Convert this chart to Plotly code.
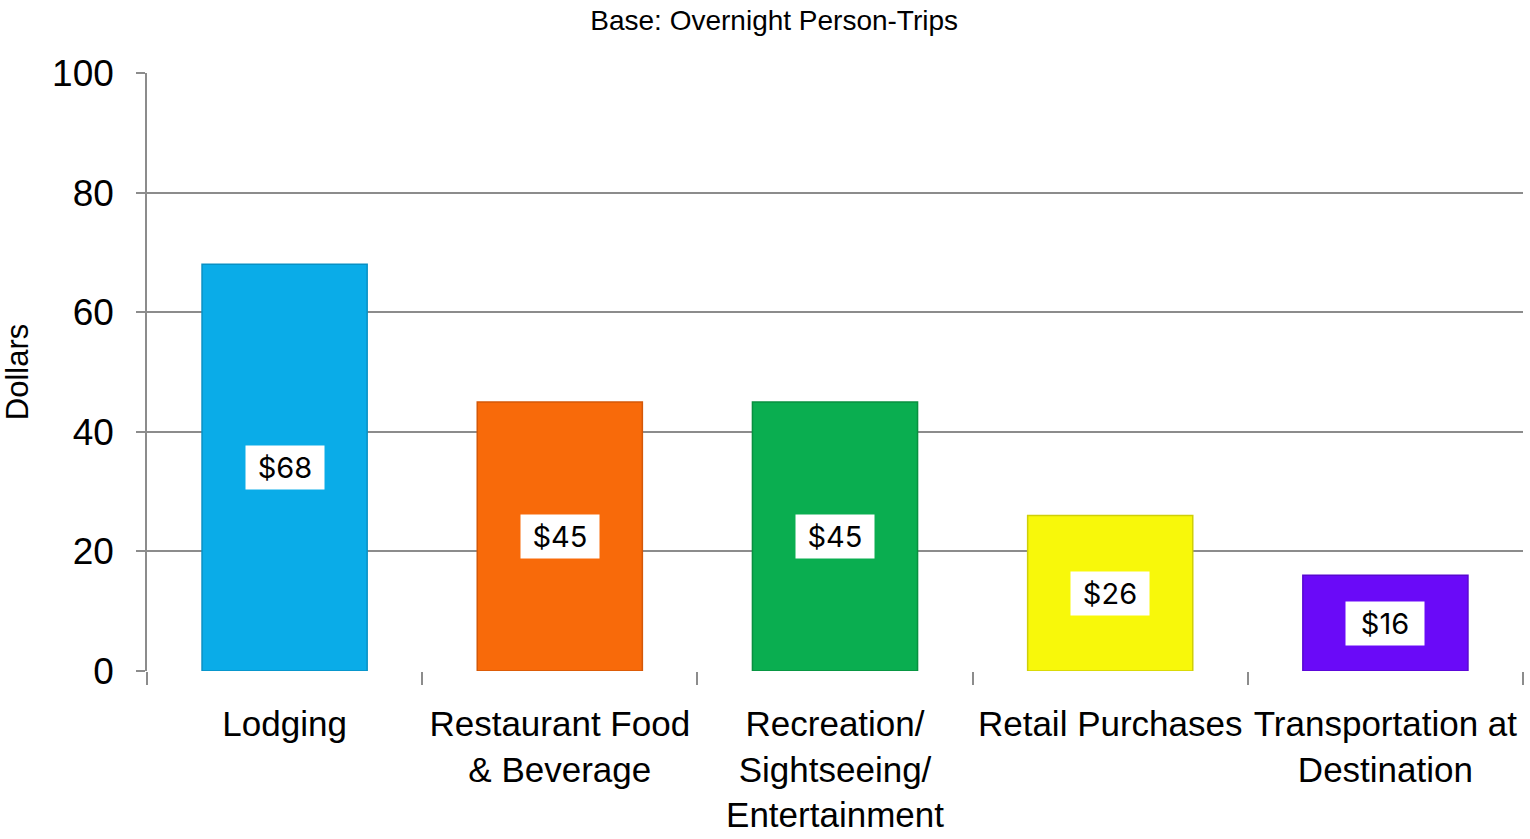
import plotly.graph_objects as go

categories = [
    "Lodging",
    "Restaurant Food<br>& Beverage",
    "Recreation/<br>Sightseeing/<br>Entertainment",
    "Retail Purchases",
    "Transportation at<br>Destination",
]
spending = [68, 45, 45, 26, 16]
value_labels = ["$68", "$45", "$45", "$26", "$16"]
bar_colors = ["#0AACE8", "#F86A0A", "#0AAE50", "#F8F80A", "#6A0AF8"]
edge_colors = ["#0890C4", "#D45808", "#08903F", "#CFCF08", "#5808D0"]
y_ticks = [0, 20, 40, 60, 80, 100]

fig = go.Figure()
fig.add_trace(go.Bar(
    x=categories,
    y=spending,
    width=0.6,
    marker=dict(color=bar_colors, line=dict(color=edge_colors, width=1.5)),
    showlegend=False,
    hoverinfo="skip",
))

# value labels in white boxes at mid-height of each bar
for cat, val, lab in zip(categories, spending, value_labels):
    fig.add_annotation(
        x=cat, y=val / 2, text=lab, showarrow=False,
        font=dict(family="Inter, Open Sans, sans-serif", size=29, color="#000000"),
        bgcolor="#FFFFFF", borderpad=4, width=70, height=35,
    )

fig.update_layout(
    width=1530, height=839,
    margin=dict(l=147, r=7, t=73, b=168),
    paper_bgcolor="#FFFFFF", plot_bgcolor="#FFFFFF",
    title=dict(
        text="Base: Overnight Person-Trips",
        x=0.506, xanchor="center", y=0.976, yanchor="middle",
        font=dict(family="Liberation Sans, Arial, sans-serif", size=28, color="#000000"),
    ),
    bargap=0.4,
)
fig.update_xaxes(
    tickson="boundaries", ticks="outside", ticklen=13, tickcolor="#8C8C8C", tickwidth=1.5,
    showgrid=False, showline=False, tickangle=0, automargin=False,
    ticklabelstandoff=29,
    tickfont=dict(family="Liberation Sans, Arial, sans-serif", size=35, color="#000000"),
)
fig.update_yaxes(
    range=[0, 100], tickvals=y_ticks, automargin=False,
    ticks="outside", ticklen=9, tickcolor="#8C8C8C", tickwidth=1.5,
    showgrid=True, gridcolor="#8C8C8C", gridwidth=1.5,
    showline=True, linecolor="#8C8C8C", linewidth=1.5,
    zeroline=False, ticklabelstandoff=15,
    tickfont=dict(family="Liberation Sans, Arial, sans-serif", size=37, color="#000000"),
    title=dict(text="Dollars", standoff=14,
               font=dict(family="Liberation Sans, Arial, sans-serif", size=31, color="#000000")),
)

fig.write_html("out.html")
